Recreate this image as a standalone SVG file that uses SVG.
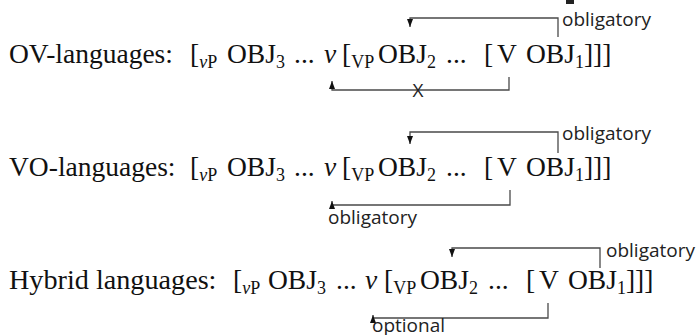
<svg xmlns="http://www.w3.org/2000/svg" width="699" height="335" viewBox="0 0 699 335">
<style>
.m{font-family:"Liberation Serif","Times New Roman",serif;font-size:27.5px;fill:#111}
.h{font-size:28.2px}
.s{font-size:18px}
.i{font-style:italic}
.l{font-family:"Open Sans","Noto Sans",sans-serif;font-size:19px;fill:#222}
.c{fill:none;stroke:#4a4a4a;stroke-width:1.3}
</style>
<defs>
<marker id="ah" markerWidth="7" markerHeight="8" refX="3.5" refY="8" orient="0" markerUnits="userSpaceOnUse">
<path d="M0.5,0 L6.5,0 L3.5,8 z" fill="#111"/>
</marker>
<marker id="au" markerWidth="7" markerHeight="8" refX="3.5" refY="0" orient="0" markerUnits="userSpaceOnUse">
<path d="M0.5,8 L6.5,8 L3.5,0 z" fill="#111"/>
</marker>
</defs>
<rect x="566" y="0" width="8" height="4" fill="#222"/>
<g id="line1">
<text class="m" x="9" y="63">OV-languages:</text>
<text class="m" x="190" y="63">[<tspan class="s" dy="5"><tspan class="i">v</tspan>P</tspan></text>
<text class="m" x="227" y="63">OBJ<tspan class="s" dy="5">3</tspan></text>
<text class="m" x="294" y="63">...</text>
<text class="m i" x="324" y="63">v</text>
<text class="m" x="342" y="63">[<tspan class="s" dy="5">VP</tspan></text>
<text class="m" x="378" y="63">OBJ<tspan class="s" dy="5">2</tspan></text>
<text class="m" x="446" y="63">...</text>
<text class="m" x="484" y="63">[</text>
<text class="m" x="497" y="63">V</text>
<text class="m" x="526" y="63">OBJ<tspan class="s" dy="5">1</tspan><tspan dy="-5">]]]</tspan></text>
</g>
<g id="line2">
<text class="m" x="9" y="176">VO-languages:</text>
<text class="m" x="190" y="176">[<tspan class="s" dy="5"><tspan class="i">v</tspan>P</tspan></text>
<text class="m" x="227" y="176">OBJ<tspan class="s" dy="5">3</tspan></text>
<text class="m" x="294" y="176">...</text>
<text class="m i" x="324" y="176">v</text>
<text class="m" x="342" y="176">[<tspan class="s" dy="5">VP</tspan></text>
<text class="m" x="378" y="176">OBJ<tspan class="s" dy="5">2</tspan></text>
<text class="m" x="446" y="176">...</text>
<text class="m" x="484" y="176">[</text>
<text class="m" x="497" y="176">V</text>
<text class="m" x="526" y="176">OBJ<tspan class="s" dy="5">1</tspan><tspan dy="-5">]]]</tspan></text>
</g>
<g id="line3">
<text class="m h" x="9" y="289">Hybrid languages:</text>
<text class="m" x="233" y="289">[<tspan class="s" dy="5"><tspan class="i">v</tspan>P</tspan></text>
<text class="m" x="268" y="289">OBJ<tspan class="s" dy="5">3</tspan></text>
<text class="m" x="336" y="289">...</text>
<text class="m i" x="365" y="289">v</text>
<text class="m" x="384" y="289">[<tspan class="s" dy="5">VP</tspan></text>
<text class="m" x="420" y="289">OBJ<tspan class="s" dy="5">2</tspan></text>
<text class="m" x="488" y="289">...</text>
<text class="m" x="526" y="289">[</text>
<text class="m" x="539" y="289">V</text>
<text class="m" x="568" y="289">OBJ<tspan class="s" dy="5">1</tspan><tspan dy="-5">]]]</tspan></text>
</g>
<g id="connectors">
<path class="c" d="M558,37 V18 H410 V27" marker-end="url(#ah)"/>
<path class="c" d="M509,77 V90 H332 V81" marker-end="url(#au)"/>
<path class="c" d="M558,153 V132 H410 V144" marker-end="url(#ah)"/>
<path class="c" d="M510,190 V205 H332 V201" marker-end="url(#au)"/>
<path class="c" d="M600,268 V248 H452 V257" marker-end="url(#ah)"/>
<path class="c" d="M548,303 V318 H373 V315" marker-end="url(#au)"/>
</g>
<g id="labels">
<text class="l" x="562" y="26">obligatory</text>
<text class="l" x="418" y="97" text-anchor="middle">X</text>
<text class="l" x="562" y="140">obligatory</text>
<text class="l" x="328" y="224">obligatory</text>
<text class="l" x="606" y="257">obligatory</text>
<text class="l" x="372" y="332">optional</text>
</g>
</svg>
